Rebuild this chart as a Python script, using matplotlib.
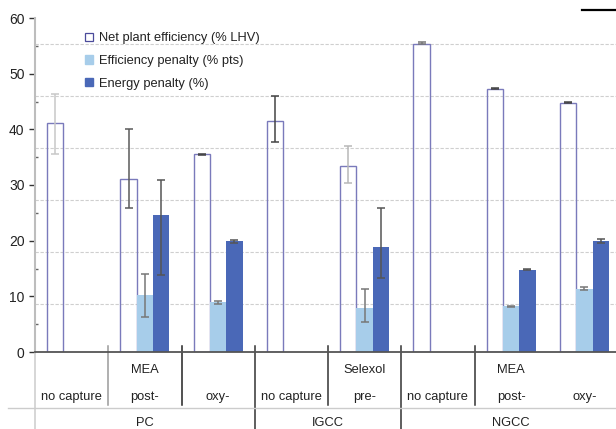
import numpy as np
import matplotlib
matplotlib.use("Agg")
import matplotlib.pyplot as plt
from matplotlib.patches import Patch
from matplotlib.lines import Line2D

plt.rcParams['font.family'] = ['Liberation Sans', 'DejaVu Sans']

# ---------------- data ----------------
technologies = ['no capture', 'post-', 'oxy-', 'no capture', 'pre-', 'no capture', 'post-', 'oxy-']
solvents = ['', 'MEA', '', '', 'Selexol', '', 'MEA', '']
groups = ['PC', 'IGCC', 'NGCC']
group_spans = [(0, 2), (3, 4), (5, 7)]

net_eff = [41.2, 31.0, 35.5, 41.5, 33.5, 55.4, 47.3, 44.8]
net_lo = [35.6, 25.8, 35.4, 37.8, 30.3, 55.3, 47.2, 44.7]
net_hi = [46.4, 40.0, 35.6, 45.9, 37.0, 55.7, 47.4, 44.9]

eff_pen = [np.nan, 10.3, 8.9, np.nan, 7.9, np.nan, 8.2, 11.4]
eff_lo = [np.nan, 6.3, 8.7, np.nan, 5.3, np.nan, 8.1, 11.1]
eff_hi = [np.nan, 14.0, 9.1, np.nan, 11.4, np.nan, 8.3, 11.7]

energy_pen = [np.nan, 24.6, 20.0, np.nan, 18.9, np.nan, 14.8, 19.9]
energy_lo = [np.nan, 13.8, 19.6, np.nan, 13.3, np.nan, 14.7, 19.6]
energy_hi = [np.nan, 30.9, 20.2, np.nan, 25.9, np.nan, 14.9, 20.3]

legend_labels = ['Net plant efficiency (% LHV)', 'Efficiency penalty (% pts)', 'Energy penalty (%)']

# ---------------- style ----------------
LIGHT = '#a7cdea'
DARK = '#4a68b7'
OUTLINE = '#7a7abb'
TXT = '#222222'
FS = 9.3

net_err_colors = ['#c8c8c8', '#5a5a5a', '#444444', '#444444', '#b8b8b8', '#777777', '#444444', '#444444']
eff_err_colors = ['#777777'] * 8
energy_err_colors = ['#555555'] * 8

W, H = 616, 429
fig = plt.figure(figsize=(W / 100, H / 100), dpi=100)
ax_left, ax_bottom, cat_px = 35, 352, 73.25
ax_h = 334
ax = fig.add_axes([ax_left / W, (H - ax_bottom) / H, 8 * cat_px / W, ax_h / H])

x = np.arange(len(technologies))
bw = 0.222

# odd offset dashed gridlines as in reference
grid_levels = [55.3, 45.9, 36.6, 27.3, 17.9, 8.6]
for g in grid_levels:
    ax.axhline(g, color='#cfcfcf', lw=0.8, ls=(0, (3, 1.5)), zorder=0)

ax.bar(x - bw, net_eff, bw, facecolor='none', edgecolor=OUTLINE, lw=1.0, zorder=2)
ax.bar(x, eff_pen, bw, color=LIGHT, zorder=2)
ax.bar(x + bw, energy_pen, bw, color=DARK, zorder=2)

def errs(xpos, vals, lo, hi, colors):
    for xi, v, l, h, c in zip(xpos, vals, lo, hi, colors):
        if np.isnan(v):
            continue
        ax.errorbar([xi], [v], yerr=[[v - l], [h - v]], fmt='none', ecolor=c,
                    elinewidth=1.1, capsize=2.8, capthick=1.1, zorder=3)

errs(x - bw, net_eff, net_lo, net_hi, net_err_colors)
errs(x, eff_pen, eff_lo, eff_hi, eff_err_colors)
errs(x + bw, energy_pen, energy_lo, energy_hi, energy_err_colors)

ax.set_xlim(-0.5, 7.5)
ax.set_ylim(0, 60)
ax.set_yticks(np.arange(0, 61, 10))
ax.set_yticks(np.arange(5, 60, 10), minor=True)
ax.tick_params(axis='y', which='major', length=4.5, width=1.0, color='#333333',
               labelsize=FS + 0.7, labelcolor=TXT, pad=3)
ax.tick_params(axis='y', which='minor', length=2, width=1.0, color='#666666', direction='in')
ax.set_xticks([])
for s in ['top', 'right']:
    ax.spines[s].set_visible(False)
ax.spines['left'].set_color('#bdbdbd')
ax.spines['left'].set_linewidth(1.5)
ax.spines['bottom'].set_color('#555555')
ax.spines['bottom'].set_linewidth(1.3)

# category label area
tr = ax.get_xaxis_transform()
def ay(py):
    return (ax_bottom - py) / ax_h

for i, (s, t) in enumerate(zip(solvents, technologies)):
    if s:
        ax.text(i, ay(370), s, transform=tr, ha='center', va='center', fontsize=FS, color=TXT)
    ax.text(i, ay(397), t, transform=tr, ha='center', va='center', fontsize=FS, color=TXT)
for g, (a, b) in zip(groups, group_spans):
    ax.text((a + b) / 2, ay(423), g, transform=tr, ha='center', va='center', fontsize=FS, color=TXT)

# separators
inner_seps = {1: '#9a9a9a', 2: '#222222', 4: '#333333', 6: '#333333'}
for b, c in inner_seps.items():
    ax.plot([b - 0.5, b - 0.5], [ay(346), ay(405)], transform=tr, color=c, lw=1.1, clip_on=False)
for b in [3, 5]:
    ax.plot([b - 0.5, b - 0.5], [ay(346), ay(432)], transform=tr, color='#333333', lw=1.1, clip_on=False)
ax.plot([-0.5, -0.5], [0, ay(432)], transform=tr, color='#cfcfcf', lw=1.2, clip_on=False)
fig.add_artist(Line2D([8 / W, 1], [1 - 408 / H] * 2, color='#cccccc', lw=1.0))

# top-right stray line
fig.add_artist(Line2D([582 / W, 1], [1 - 9.5 / H] * 2, color='black', lw=1.6))

# legend
handles = [Patch(facecolor='white', edgecolor='#4b4b9b', lw=0.9),
           Patch(facecolor=LIGHT, edgecolor=LIGHT),
           Patch(facecolor=DARK, edgecolor=DARK)]
leg = fig.legend(handles, legend_labels, loc='upper left',
                 bbox_to_anchor=(85 / W, 1 - 32.5 / H), frameon=False,
                 fontsize=FS, handlelength=0.65, handleheight=0.6,
                 handletextpad=0.45, labelspacing=0.82, borderpad=0, borderaxespad=0)
for t in leg.get_texts():
    t.set_color(TXT)

fig.savefig('out.png', dpi=100)
